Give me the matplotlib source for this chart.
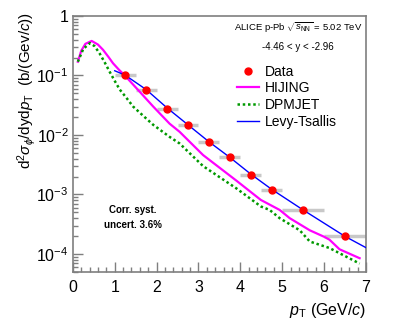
import matplotlib
matplotlib.use("Agg")
import matplotlib.pyplot as plt
import numpy as np

plt.rcParams['font.family'] = ['Liberation Sans', 'DejaVu Sans']
plt.rcParams['mathtext.fontset'] = 'custom'
plt.rcParams['mathtext.rm'] = 'Liberation Sans'
plt.rcParams['mathtext.it'] = 'Liberation Sans:italic'
plt.rcParams['mathtext.bf'] = 'Liberation Sans:bold'

# measured phi cross section (bin centres, bin edges, values)
data_pt = [1.25, 1.75, 2.25, 2.75, 3.25, 3.75, 4.25, 4.75, 5.5, 6.5]
data_lo = [1.0, 1.5, 2.0, 2.5, 3.0, 3.5, 4.0, 4.5, 5.0, 6.0]
data_hi = [1.5, 2.0, 2.5, 3.0, 3.5, 4.0, 4.5, 5.0, 6.0, 7.0]
data_y = [0.101, 0.057, 0.0275, 0.0148, 0.0076, 0.0042, 0.0021, 0.00121, 0.00055, 0.000200]

# HIJING prediction
hijing_pt = [0.12, 0.2, 0.3, 0.45, 0.6, 0.72, 0.85, 0.96, 1.1, 1.24, 1.52, 1.92,
             2.31, 2.55, 3.11, 3.91, 4.49, 4.94, 5.18, 5.66, 6.0, 6.13, 6.37, 6.85]
hijing_y = [0.17, 0.26, 0.34, 0.38, 0.33, 0.27, 0.205, 0.16, 0.125, 0.100, 0.061, 0.030,
            0.0155, 0.0113, 0.0046, 0.0017, 8.1e-4, 5.5e-4, 4.0e-4, 2.5e-4, 1.95e-4,
            1.74e-4, 1.2e-4, 8.5e-5]

# DPMJET prediction
dpmjet_pt = [0.12, 0.25, 0.41, 0.52, 0.64, 0.76, 0.88, 1.0, 1.12, 1.28, 1.44, 1.68,
             1.92, 2.31, 2.55, 3.11, 3.91, 4.49, 4.70, 4.94, 5.42, 5.66, 6.13, 6.85]
dpmjet_y = [0.17, 0.28, 0.35, 0.31, 0.234, 0.166, 0.115, 0.081, 0.058, 0.042, 0.030,
            0.021, 0.0148, 0.0093, 0.0072, 0.0030, 0.00126, 6.3e-4, 5.5e-4, 4.0e-4,
            2.5e-4, 1.62e-4, 1.26e-4, 6.9e-5]

# Levy-Tsallis fit
levy_pt = [1.0, 1.25, 1.75, 2.25, 2.75, 3.25, 3.75, 4.25, 4.75, 5.5, 6.5, 7.0]
levy_y = [0.12, 0.101, 0.058, 0.0285, 0.0148, 0.0077, 0.0042, 0.0022, 0.00122,
          0.00055, 0.000198, 0.000128]

y_ticks = [1e-4, 1e-3, 1e-2, 1e-1, 1]
y_tick_labels = ['$10^{-4}$', '$10^{-3}$', '$10^{-2}$', '$10^{-1}$', '1']
x_ticks = [0, 1, 2, 3, 4, 5, 6, 7]

frame_color = '#7f7f7f'

fig = plt.figure(figsize=(4.07, 3.32), dpi=100)
ax = fig.add_axes([0.179, 0.181, 0.72, 0.771])

# systematic boxes as grey horizontal bars
ax.hlines(data_y, data_lo, data_hi, color='#c8c8c8', lw=2.5, zorder=2)
ax.plot(data_pt, data_y, 'o', color='red', ms=5, zorder=5, label='Data')
ax.plot(hijing_pt, hijing_y, color='#ff00ff', lw=1.6, zorder=3, label='HIJING')
ax.plot(dpmjet_pt, dpmjet_y, color='#009900', lw=1.8, ls=(0, (1, 1.1)), zorder=3,
        label='DPMJET')
ax.plot(levy_pt, levy_y, color='#0000ff', lw=1.0, zorder=4, label='Levy-Tsallis')

ax.set_yscale('log')
ax.set_xlim(0, 7)
ax.set_ylim(5e-5, 1)
ax.set_xticks(x_ticks)
ax.set_xticklabels([str(t) for t in x_ticks])
ax.xaxis.set_minor_locator(matplotlib.ticker.MultipleLocator(0.2))
ax.set_yticks(y_ticks)
ax.set_yticklabels(y_tick_labels)
ax.yaxis.set_minor_locator(matplotlib.ticker.LogLocator(base=10, subs=np.arange(2, 10)))
ax.yaxis.set_minor_formatter(matplotlib.ticker.NullFormatter())

for s in ax.spines.values():
    s.set_color(frame_color)
    s.set_linewidth(1.2)
ax.tick_params(which='both', direction='in', color=frame_color, width=1.0,
               top=False, right=False, labelsize=11.5)
ax.tick_params(which='major', length=7)
ax.tick_params(which='minor', length=3.5)
ax.tick_params(axis='x', pad=6)
ax.tick_params(axis='y', pad=3)

ax.set_ylabel(r'd$^{2}\sigma_{\phi}$/dyd$p_{\mathrm{T}}$  (b/(Gev/$c$))',
              fontsize=11, loc='top')
ax.yaxis.set_label_coords(-0.12, 1.015)
ax.set_xlabel(r'$p_{\mathrm{T}}$ (GeV/$c$)', fontsize=11.5, loc='right')
ax.xaxis.set_label_coords(1.0, -0.115)

ax.text(0.768, 0.953, r'ALICE p-Pb $\sqrt{s_{\mathrm{NN}}}$ = 5.02 TeV',
        transform=ax.transAxes, fontsize=6.8, ha='center', va='center')
ax.text(0.768, 0.879, '-4.46 < y < -2.96', transform=ax.transAxes,
        fontsize=7, ha='center', va='center')
ax.text(0.205, 0.213, 'Corr. syst.\nuncert. 3.6%', transform=ax.transAxes,
        fontsize=7, fontweight='bold', ha='center', va='center', linespacing=1.6)

ax.legend(loc='upper left', bbox_to_anchor=(0.56, 0.81), frameon=False,
          fontsize=10, handlelength=1.6, handletextpad=0.4, labelspacing=0.2,
          borderaxespad=0, borderpad=0)

fig.savefig('out.png', dpi=100)
